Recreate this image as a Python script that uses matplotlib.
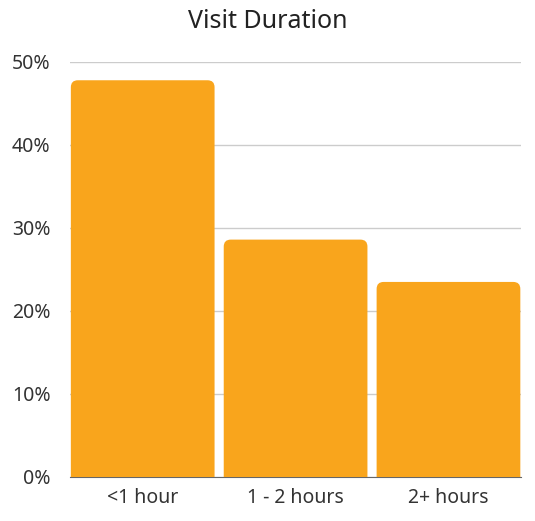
import matplotlib
matplotlib.use("Agg")
import matplotlib.pyplot as plt
from matplotlib.patches import FancyBboxPatch

categories = ["<1 hour", "1 - 2 hours", "2+ hours"]
values = [47.8, 28.6, 23.5]
yticks = [0, 10, 20, 30, 40, 50]
ytick_labels = ["0%", "10%", "20%", "30%", "40%", "50%"]

plt.rcParams['font.family'] = ['Noto Sans', 'DejaVu Sans']

fig = plt.figure(figsize=(5.35, 5.21), dpi=100)
ax = fig.add_axes([0.131, 0.0845, 0.843, 0.7965])

bars = ax.bar(range(len(categories)), values, width=0.94, color="#F9A51C", zorder=3)
ax.set_xlim(-0.475, 2.475)
ax.set_ylim(0, 50)

# swap plain bars for ones with rounded top corners
radius_px = 7
x_per_px = 2.95 / (0.843 * 535)
y_per_px = 50 / (0.7965 * 521)
for b in bars:
    x, w, h = b.get_x(), b.get_width(), b.get_height()
    b.set_visible(False)
    p = FancyBboxPatch((x, -5), w, h + 5,
                       boxstyle="round,pad=0,rounding_size=%f" % (radius_px * x_per_px),
                       mutation_aspect=y_per_px / x_per_px,
                       facecolor="#F9A51C", edgecolor="none", zorder=3)
    ax.add_patch(p)

ax.set_yticks(yticks)
ax.set_yticklabels(ytick_labels)
ax.set_xticks(range(len(categories)))
ax.set_xticklabels(categories)
ax.tick_params(length=0, labelsize=14, colors="#333333", pad=8)
ax.tick_params(axis="y", pad=14)

ax.grid(axis="y", color="#cccccc", linewidth=1, zorder=0)
for s in ["top", "right", "left"]:
    ax.spines[s].set_visible(False)
ax.spines["bottom"].set_color("#666666")
ax.spines["bottom"].set_zorder(1)

fig.text(0.5, 1 - 22 / 521, "Visit Duration", fontsize=18, color="#222222",
         ha="center", va="center")

fig.savefig("out.png", dpi=100)
